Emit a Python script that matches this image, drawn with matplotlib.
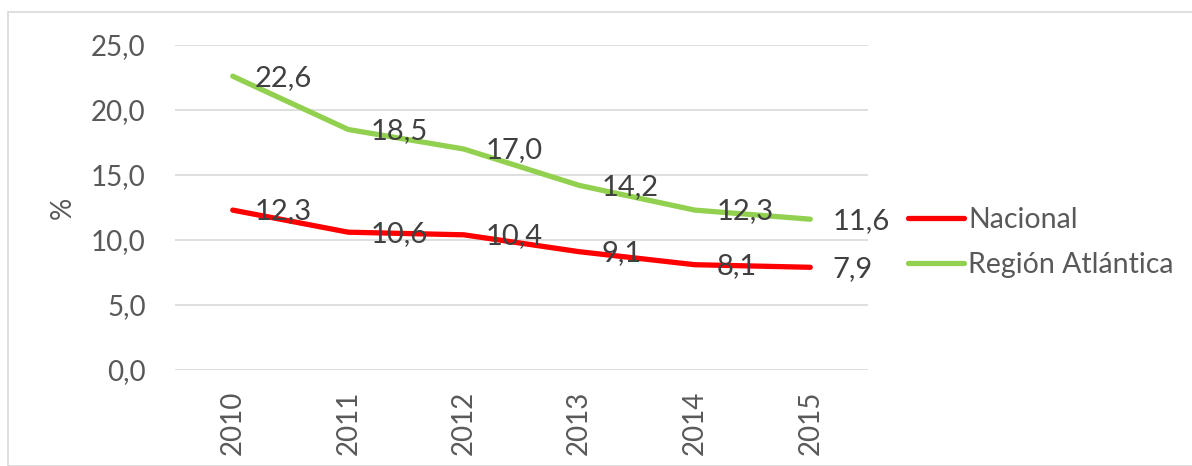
import matplotlib
matplotlib.use("Agg")
import matplotlib.pyplot as plt
from matplotlib.patches import Rectangle

years = ["2010", "2011", "2012", "2013", "2014", "2015"]
nacional = [12.3, 10.6, 10.4, 9.1, 8.1, 7.9]
atlantica = [22.6, 18.5, 17.0, 14.2, 12.3, 11.6]
series_names = ["Nacional", "Región Atlántica"]
yticks = [0, 5, 10, 15, 20, 25]

plt.rcParams['font.family'] = ['Lato', 'DejaVu Sans']

W, H = 1192, 466
fig = plt.figure(figsize=(W/100, H/100), dpi=100)
fig.patches.append(Rectangle((8/W, 0), 1 - 8/W + 0.01, 1 - 12/H, transform=fig.transFigure,
                             fill=False, edgecolor='#d9d9d9', linewidth=1.2))

ax = fig.add_axes([175/W, 1 - 370/H, (868-175)/W, (370-45)/H])
x = list(range(len(years)))
l1, = ax.plot(x, nacional, color='#FF0000', lw=3.8, solid_capstyle='round', label=series_names[0], zorder=3)
l2, = ax.plot(x, atlantica, color='#92D050', lw=3.8, solid_capstyle='round', label=series_names[1], zorder=3)

for xs, ys in [(x, nacional), (x, atlantica)]:
    for xi, yi in zip(xs, ys):
        ax.annotate(f"{yi:.1f}".replace('.', ','), (xi, yi), xytext=(16, -1),
                    textcoords='offset points', va='center', ha='left',
                    fontsize=21, color='#404040', zorder=4)

ax.set_xlim(-0.5, 5.5)
ax.set_ylim(0, 25)
ax.set_yticks(yticks)
ax.set_yticklabels([f"{v:.1f}".replace('.', ',') for v in yticks], fontsize=20, color='#595959')
ax.set_xticks(x)
ax.set_xticklabels(years, rotation=90, fontsize=20, color='#595959')
ax.tick_params(axis='y', length=0, pad=21)
ax.tick_params(axis='x', length=0, pad=15)
ax.grid(axis='y', color='#d9d9d9', lw=1.2)
ax.set_axisbelow(True)
for s in ax.spines.values():
    s.set_visible(False)
ax.set_ylabel('%', fontsize=20, color='#595959')
ax.yaxis.set_label_coords((76 - 175) / (868 - 175), 0.5)

leg = fig.legend(handles=[l1, l2], loc='upper left', bbox_to_anchor=(897/W, 1 - 196/H),
                 frameon=False, fontsize=20.5, handlelength=1.95, handletextpad=0.15,
                 labelspacing=0.65, borderaxespad=0)
for t in leg.get_texts():
    t.set_color('#595959')

fig.savefig('out.png', dpi=100)
